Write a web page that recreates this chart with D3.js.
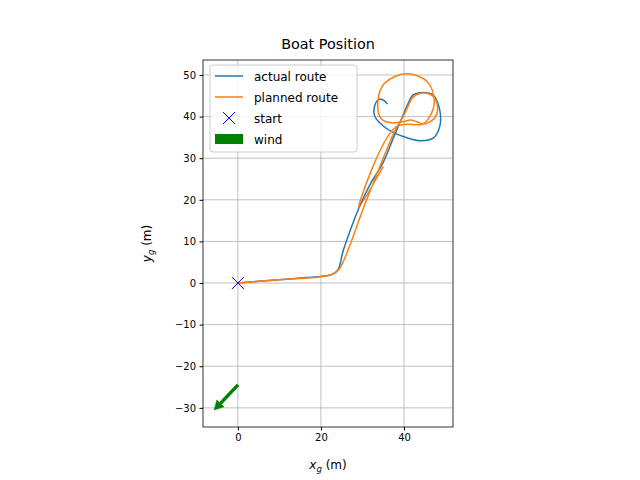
<!DOCTYPE html>
<html>
<head>
<meta charset="utf-8">
<style>
  body { margin: 0; background: white; font-family: 'DejaVu Sans', sans-serif; }
  .grid line { stroke: #b0b0b0; stroke-width: 0.8; }
  .tick text { font-size: 10px; fill: black; }
</style>
</head>
<body>
<svg width="640" height="480"></svg>
<script src="https://d3js.org/d3.v7.min.js"></script>
<script>
// actual route [x, y] in metres
const actualRoute = [
  [0, 0], [5, 0.4], [10, 0.8], [15, 1.2], [20, 1.6], [22.5, 2], [24, 3], [24.6, 4.5], [25.2, 7.2],
  [27, 12.5], [29.3, 18.4], [32, 24], [34.9, 28.8], [37.5, 35], [39.8, 40.4], [41, 43.2],
  [42.2, 45.2], [44.6, 45.8], [47, 45.2], [48.6, 41.6], [48.6, 37.6], [47, 34.8],
  [43.8, 34.2], [39.8, 35.2], [35.7, 37.2], [33, 40], [33, 42.8], [34.1, 44.2],
  [35.3, 43.8], [36, 43]
];
// planned route
const plannedRoute = [
  [0, 0], [10, 0.8], [20, 1.5], [23, 2.2], [24.5, 3.5], [31, 20], [38, 37], [39.5, 39.5],
  [41, 42.5], [42, 44.5], [44, 45.6], [46.5, 45.2], [48, 43], [47.6, 40], [45.8, 38.5],
  [44.5, 38.2], [43, 38.8], [41.5, 39.2], [40, 38.8], [37, 38.5], [34.5, 39.5],
  [33.7, 43.5], [35.3, 48], [40.5, 50.3], [45.5, 48.5], [47.3, 44], [46.2, 40],
  [44.5, 38.2], [38, 37.5], [29, 18], [35, 28]
];
const start = [0, 0];
const wind = { x: 0, y: -24.5, dx: -5.7, dy: -6 };
const xTicks = [0, 20, 40];
const yTicks = [-30, -20, -10, 0, 10, 20, 30, 40, 50];

const svg = d3.select("svg");
const pLeft = 203, pRight = 453, pTop = 60, pBottom = 427;
const x = d3.scaleLinear().domain([-8.4, 51.8]).range([pLeft, pRight]);
const y = d3.scaleLinear().domain([-34.6, 53.6]).range([pBottom, pTop]);

const g = svg.append("g");
g.append("g").attr("class", "grid").selectAll("line").data(xTicks).join("line")
  .attr("x1", d => x(d)).attr("x2", d => x(d)).attr("y1", pTop).attr("y2", pBottom);
g.append("g").attr("class", "grid").selectAll("line").data(yTicks).join("line")
  .attr("y1", d => y(d)).attr("y2", d => y(d)).attr("x1", pLeft).attr("x2", pRight);

const line = d3.line().x(d => x(d[0])).y(d => y(d[1])).curve(d3.curveCatmullRom.alpha(0.5));
g.append("path").attr("d", line(actualRoute)).attr("fill", "none")
  .attr("stroke", "#1f77b4").attr("stroke-width", 1.5);
g.append("path").attr("d", line(plannedRoute))
  .attr("fill", "none").attr("stroke", "#ff7f0e").attr("stroke-width", 1.5);

// start marker
const sx = x(start[0]), sy = y(start[1]);
g.append("path").attr("d", `M${sx-6},${sy-6}L${sx+6},${sy+6}M${sx-6},${sy+6}L${sx+6},${sy-6}`)
  .attr("stroke", "blue").attr("stroke-width", 1);

// wind arrow
const x0 = x(wind.x), y0 = y(wind.y), x1 = x(wind.x + wind.dx), y1 = y(wind.y + wind.dy);
const ang = Math.atan2(y1 - y0, x1 - x0), L = Math.hypot(x1 - x0, y1 - y0);
const hw = 1.5, hh = 5, hl = 9;
const arrow = g.append("g").attr("transform", `translate(${x0},${y0}) rotate(${ang * 180 / Math.PI})`);
arrow.append("path")
  .attr("d", `M0,${-hw}L${L-hl},${-hw}L${L-hl},${-hh}L${L},0L${L-hl},${hh}L${L-hl},${hw}L0,${hw}Z`)
  .attr("fill", "green").attr("stroke", "green").attr("stroke-width", 0.5);

// frame and axes
svg.append("rect").attr("x", pLeft).attr("y", pTop).attr("width", pRight - pLeft).attr("height", pBottom - pTop)
  .attr("fill", "none").attr("stroke", "black").attr("stroke-width", 0.8);
svg.append("g").attr("transform", `translate(0,${pBottom})`)
  .call(d3.axisBottom(x).tickValues(xTicks).tickSize(3.5).tickPadding(3.5).tickFormat(d3.format("d")))
  .call(a => a.select(".domain").remove());
svg.append("g").attr("transform", `translate(${pLeft},0)`)
  .call(d3.axisLeft(y).tickValues(yTicks).tickSize(3.5).tickPadding(3.5).tickFormat(d => d < 0 ? "\u2212" + Math.abs(d) : d))
  .call(a => a.select(".domain").remove());
svg.selectAll(".tick text").style("font-family", "DejaVu Sans");

svg.append("text").attr("x", (pLeft + pRight) / 2).attr("y", pTop - 11).attr("text-anchor", "middle")
  .attr("font-size", 14.4).text("Boat Position");
const xl = svg.append("text").attr("x", (pLeft + pRight) / 2).attr("y", 469).attr("text-anchor", "middle").attr("font-size", 12);
xl.append("tspan").attr("font-style", "italic").text("x");
xl.append("tspan").attr("font-style", "italic").attr("font-size", 8.5).attr("dy", 3).text("g");
xl.append("tspan").attr("dy", -3).text(" (m)");
const yl = svg.append("text").attr("transform", `translate(151,${(pTop + pBottom) / 2}) rotate(-90)`)
  .attr("text-anchor", "middle").attr("font-size", 12);
yl.append("tspan").attr("font-style", "italic").text("y");
yl.append("tspan").attr("font-style", "italic").attr("font-size", 8.5).attr("dy", 3).text("g");
yl.append("tspan").attr("dy", -3).text(" (m)");

// legend
const leg = svg.append("g").attr("transform", "translate(210,65)");
leg.append("rect").attr("width", 147).attr("height", 87).attr("rx", 3)
  .attr("fill", "white").attr("fill-opacity", 0.8).attr("stroke", "#ccc");
const items = ["actual route", "planned route", "start", "wind"];
items.forEach((t, i) => {
  const cy = 11 + i * 21;
  if (i < 2) leg.append("line").attr("x1", 5).attr("x2", 33).attr("y1", cy).attr("y2", cy)
    .attr("stroke", i ? "#ff7f0e" : "#1f77b4").attr("stroke-width", 1.5);
  else if (i === 2) leg.append("path").attr("d", `M13,${cy-6}L25,${cy+6}M13,${cy+6}L25,${cy-6}`).attr("stroke", "blue");
  else leg.append("rect").attr("x", 5).attr("y", cy - 5).attr("width", 28).attr("height", 10).attr("fill", "green");
  leg.append("text").attr("x", 44).attr("y", cy + 4.5).attr("font-size", 12).text(t);
});
</script>
</body>
</html>
